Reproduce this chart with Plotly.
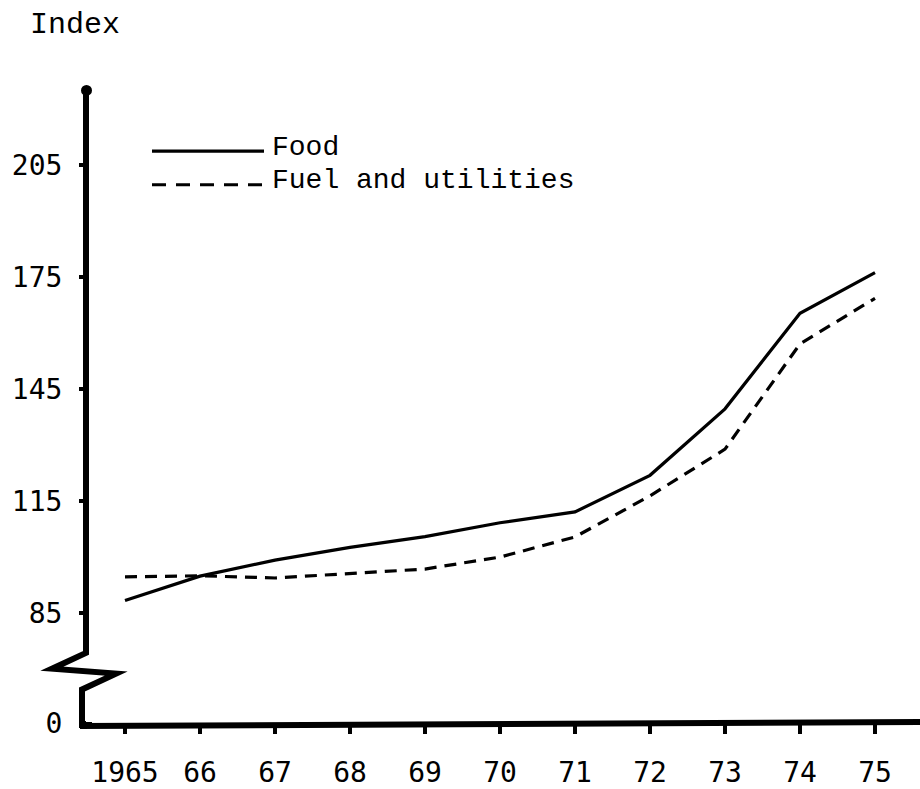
import plotly.graph_objects as go

# ---- data ----
years = [1965, 1966, 1967, 1968, 1969, 1970, 1971, 1972, 1973, 1974, 1975]
x_tick_labels = ["1965", "66", "67", "68", "69", "70", "71", "72", "73", "74", "75"]
food = [88.5, 95.0, 99.3, 102.7, 105.6, 109.3, 112.2, 122.0, 139.8, 165.4, 176.3]
fuel_utilities = [94.8, 95.1, 94.5, 95.8, 96.9, 100.1, 105.5, 116.5, 129.0, 157.2, 169.4]
y_tick_values = [85, 115, 145, 175, 205]
y_tick_labels = ["0", "85", "115", "145", "175", "205"]
series_names = ["Food", "Fuel and utilities"]

# broken axis: the "0" tick sits just below 85 after the axis break
Y_BREAK_BASE = 55.6

W, H = 920, 789
PLOT_L, PLOT_R, PLOT_T, PLOT_B = 87, 920, 85, 732  # pixels
L, R, T, B = PLOT_L, W - PLOT_R, PLOT_T, H - PLOT_B
PW, PH = PLOT_R - PLOT_L, PLOT_B - PLOT_T


def px(xp):
    return (xp - PLOT_L) / PW


def py(yp):
    return (PLOT_B - yp) / PH


fig = go.Figure()
fig.add_trace(go.Scatter(x=years, y=food, mode="lines", name=series_names[0],
                         line=dict(color="black", width=3.2), showlegend=False,
                         hoverinfo="skip"))
fig.add_trace(go.Scatter(x=years, y=fuel_utilities, mode="lines", name=series_names[1],
                         line=dict(color="black", width=3.2, dash="12px,8px"), showlegend=False,
                         hoverinfo="skip"))

shapes = []
# y axis with break (zigzag)
pts = [(86, 92), (86, 660), (52, 676), (116, 681), (82, 697), (82, 733), (92, 733)]
path = "M " + " L ".join(f"{px(a):.5f},{py(b):.5f}" for a, b in pts)
shapes.append(dict(type="path", xref="paper", yref="paper", path=path,
                   line=dict(color="black", width=6)))
# top dot of y axis
shapes.append(dict(type="circle", xref="paper", yref="paper",
                   x0=px(81), x1=px(92), y0=py(96), y1=py(85),
                   fillcolor="black", line=dict(color="black", width=0)))
# x axis
shapes.append(dict(type="line", xref="paper", yref="paper",
                   x0=px(80), x1=px(920), y0=py(734), y1=py(730),
                   line=dict(color="black", width=6)))
# legend samples
shapes.append(dict(type="line", xref="paper", yref="paper",
                   x0=px(152), x1=px(264), y0=py(152), y1=py(152),
                   line=dict(color="black", width=3.2)))
shapes.append(dict(type="line", xref="paper", yref="paper",
                   x0=px(152), x1=px(268), y0=py(186), y1=py(186),
                   line=dict(color="black", width=3.2, dash="14px,10px")))

annotations = [
    dict(text="Index", xref="paper", yref="paper", x=px(28), y=py(24),
         xanchor="left", yanchor="middle", showarrow=False,
         font=dict(family="Liberation Mono", size=30, color="black")),
    dict(text=series_names[0], xref="paper", yref="paper", x=px(270), y=py(148),
         xanchor="left", yanchor="middle", showarrow=False,
         font=dict(family="Liberation Mono", size=28, color="black")),
    dict(text=series_names[1], xref="paper", yref="paper", x=px(270), y=py(182),
         xanchor="left", yanchor="middle", showarrow=False,
         font=dict(family="Liberation Mono", size=28, color="black")),
]

x0 = 1965 - (125 - PLOT_L) / 75.0
x1 = 1965 + (PLOT_R - 125) / 75.0
y0 = Y_BREAK_BASE - 0.2
y1 = 85 + (620 - PLOT_T) / 3.78

fig.update_layout(
    width=W, height=H,
    margin=dict(l=L, r=R, t=T, b=B),
    paper_bgcolor="white", plot_bgcolor="white",
    shapes=shapes, annotations=annotations,
    showlegend=False,
    hovermode=False,
    xaxis=dict(range=[x0, x1], tickmode="array", tickvals=years, ticktext=x_tick_labels,
               showgrid=False, zeroline=False, showline=False,
               ticks="outside", ticklen=9, tickwidth=4, tickcolor="black",
               ticklabelstandoff=14,
               tickfont=dict(family="DejaVu Sans Mono", size=28, color="black")),
    yaxis=dict(range=[y0, y1], tickmode="array",
               tickvals=[Y_BREAK_BASE] + y_tick_values, ticktext=y_tick_labels,
               showgrid=False, zeroline=False, showline=False,
               ticks="outside", ticklen=7, tickwidth=4, tickcolor="black",
               ticklabelstandoff=11,
               tickfont=dict(family="DejaVu Sans Mono", size=28, color="black")),
)

# remove the browser's default 8px body margin so the figure fills the window exactly
fig.write_html(
    "out.html",
    config={"displayModeBar": False},
    post_script="document.body.style.margin='0';document.documentElement.style.overflow='hidden';",
)
